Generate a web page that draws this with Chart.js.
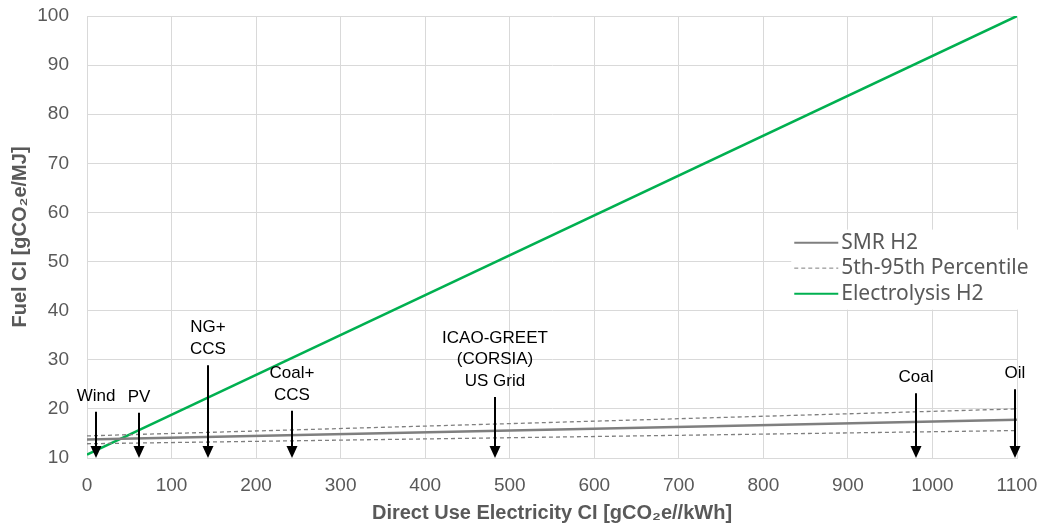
<!DOCTYPE html>
<html>
<head>
<meta charset="utf-8">
<script src="https://cdn.jsdelivr.net/npm/chart.js@4/dist/chart.umd.min.js"></script>
<style>
  html, body { margin: 0; padding: 0; background: #fff; }
  #wrap { width: 1043px; height: 525px; }
</style>
</head>
<body>
<div id="wrap"><canvas id="ciChart" width="1043" height="525"></canvas></div>
<script>
// x values: direct use electricity CI [gCO2e/kWh]
const elecCI = [0, 1100];
// series values (fuel CI, gCO2e/MJ)
const smrH2 = [13.75, 17.8];
const smrP95 = [14.5, 20.0];
const smrP5 = [12.9, 15.6];
const electrolysisH2 = [10.7, 100];

// annotated electricity sources
const sourceLabels = [['Wind'], ['PV'], ['NG+', 'CCS'], ['Coal+', 'CCS'], ['ICAO-GREET', '(CORSIA)', 'US Grid'], ['Coal'], ['Oil']];
const sourceCI = [11, 62, 143, 242, 483, 980, 1098];
const arrowTop = [19.4, 19.2, 28.9, 19.6, 22.4, 23.2, 24.0];

const yTicks = [10, 20, 30, 40, 50, 60, 70, 80, 90, 100];

const GREY = '#595959';
const GRID = '#d9d9d9';
const FONT = '"Liberation Sans", Arial, sans-serif';

function toPoints(ys) {
    return ys.map((y, i) => ({ x: elecCI[i], y: y }));
}

// arrows + labels and in-plot legend
const annotatePlugin = {
    id: 'annotate',
    afterDatasetsDraw(chart) {
        const ctx = chart.ctx;
        const xs = chart.scales.x;
        const ys = chart.scales.y;
        const bottom = ys.getPixelForValue(10);
        ctx.save();
        ctx.strokeStyle = '#000';
        ctx.fillStyle = '#000';
        ctx.lineWidth = 2;
        ctx.font = '17px ' + FONT;
        ctx.textAlign = 'center';
        ctx.textBaseline = 'middle';
        sourceCI.forEach((v, i) => {
            const px = Math.round(xs.getPixelForValue(v));
            const top = ys.getPixelForValue(arrowTop[i]);
            ctx.beginPath();
            ctx.moveTo(px, top);
            ctx.lineTo(px, bottom - 10);
            ctx.stroke();
            ctx.beginPath();
            ctx.moveTo(px - 5.5, bottom - 12);
            ctx.lineTo(px + 5.5, bottom - 12);
            ctx.lineTo(px, bottom);
            ctx.closePath();
            ctx.fill();
            const lines = sourceLabels[i];
            lines.forEach((t, j) => {
                const yy = top - 16 - (lines.length - 1 - j) * 21.5;
                ctx.fillText(t, px, yy);
            });
        });

        // legend box
        const lx = xs.getPixelForValue(833);
        const ly = ys.getPixelForValue(56.5);
        ctx.fillStyle = '#fff';
        ctx.fillRect(lx, ly, 240, 80);
        const items = chart.data.datasets.filter(d => !d.hideInLegend);
        ctx.font = '21px "Noto Sans", "Open Sans", sans-serif';
        ctx.textAlign = 'left';
        items.forEach((d, i) => {
            const yy = ly + 13 + i * 25.5;
            ctx.strokeStyle = d.borderColor;
            ctx.lineWidth = d.borderWidth > 1.5 ? 2 : 1;
            ctx.setLineDash(d.borderDash || []);
            ctx.beginPath();
            ctx.moveTo(lx + 3, yy);
            ctx.lineTo(lx + 47, yy);
            ctx.stroke();
            ctx.setLineDash([]);
            ctx.fillStyle = GREY;
            ctx.fillText(d.label, lx + 50, yy);
        });
        ctx.restore();
    }
};

new Chart(document.getElementById('ciChart').getContext('2d'), {
    type: 'line',
    data: {
        datasets: [{
            label: 'SMR H2',
            data: toPoints(smrH2),
            borderColor: '#7f7f7f',
            borderWidth: 2.5,
            pointRadius: 0
        }, {
            label: '5th-95th Percentile',
            data: toPoints(smrP95),
            borderColor: '#7f7f7f',
            borderWidth: 1.3,
            borderDash: [4, 3],
            pointRadius: 0
        }, {
            label: '5th-95th Percentile',
            hideInLegend: true,
            data: toPoints(smrP5),
            borderColor: '#7f7f7f',
            borderWidth: 1.3,
            borderDash: [4, 3],
            pointRadius: 0
        }, {
            label: 'Electrolysis H2',
            data: toPoints(electrolysisH2),
            borderColor: '#00b050',
            borderWidth: 2.5,
            pointRadius: 0
        }]
    },
    options: {
        responsive: false,
        animation: false,
        layout: { padding: 0 },
        plugins: {
            legend: { display: false },
            tooltip: { enabled: false }
        },
        scales: {
            x: {
                type: 'linear',
                min: 0,
                max: 1100,
                ticks: {
                    stepSize: 100,
                    color: GREY,
                    padding: 16,
                    maxRotation: 0,
                    callback: v => String(v),
                    font: { size: 19, family: FONT }
                },
                grid: { color: GRID, drawTicks: false },
                border: { color: GRID },
                title: {
                    display: true,
                    text: 'Direct Use Electricity CI [gCO\u2082e//kWh]',
                    color: GREY,
                    padding: { top: 4, bottom: 0 },
                    font: { size: 20, weight: 'bold', family: FONT }
                },
                afterFit(scale) {
                    scale.height = 67;
                    scale.paddingRight = 26;
                    scale.paddingLeft = 0;
                }
            },
            y: {
                type: 'linear',
                min: 10,
                max: 100,
                afterBuildTicks(scale) { scale.ticks = yTicks.map(v => ({ value: v })); },
                ticks: {
                    color: GREY,
                    padding: 18,
                    font: { size: 19, family: FONT }
                },
                grid: { color: GRID, drawTicks: false },
                border: { color: GRID },
                title: {
                    display: true,
                    text: 'Fuel CI [gCO\u2082e/MJ]',
                    color: GREY,
                    padding: { top: 8, bottom: 0 },
                    font: { size: 20, weight: 'bold', family: FONT }
                },
                afterFit(scale) {
                    scale.width = 87;
                    scale.paddingTop = 16;
                    scale.paddingBottom = 0;
                }
            }
        }
    },
    plugins: [annotatePlugin]
});
</script>
</body>
</html>
